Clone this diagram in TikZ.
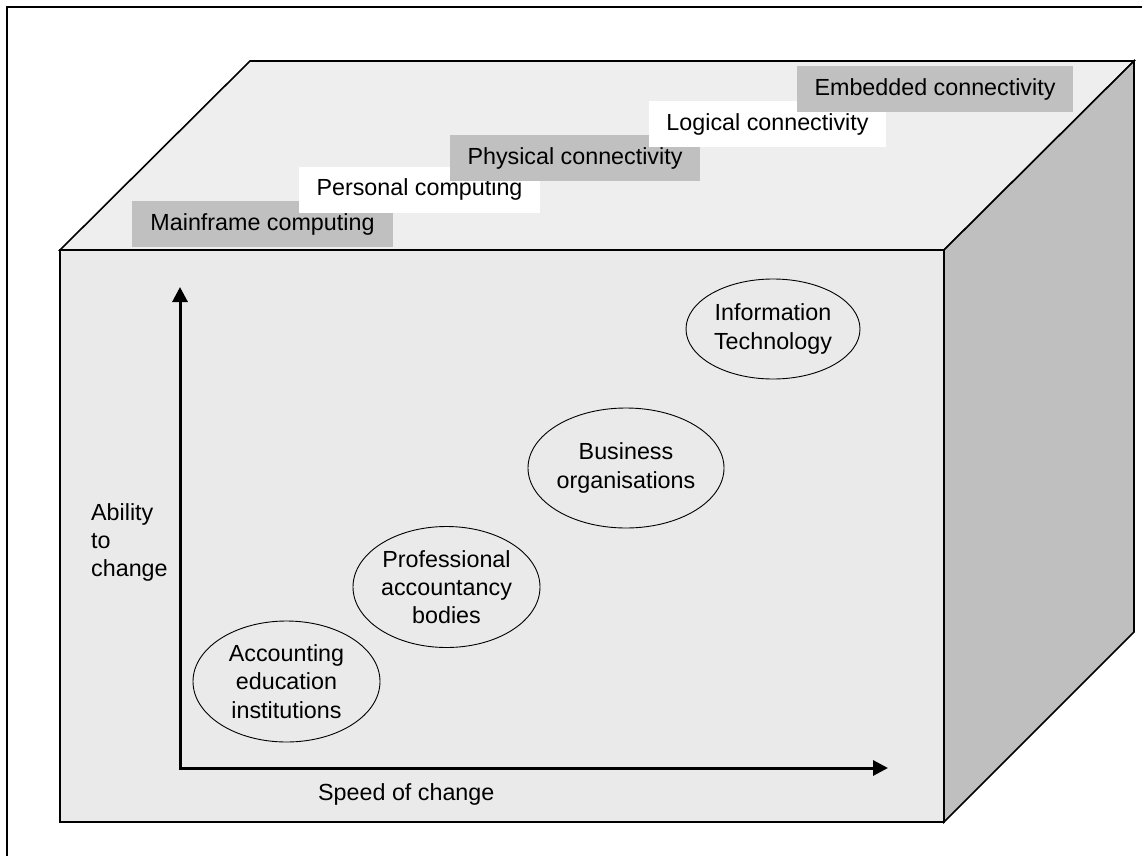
\documentclass[tikz,border=0pt]{standalone}
\usepackage{fontspec}
\setmainfont{Liberation Sans}
\usepackage{tikz}
\usetikzlibrary{arrows.meta}
\usetikzlibrary{shapes.geometric}
\usepackage{xcolor}
\definecolor{FaceFront}{RGB}{234,234,234}
\definecolor{FaceTop}{RGB}{238,238,238}
\definecolor{FaceSide}{RGB}{191,191,191}
\definecolor{EraGrey}{RGB}{192,192,192}
\tikzstyle{CubeFace}=[draw=black,line width=1.6pt,line join=miter]
\tikzstyle{EraBox}=[inner sep=0pt,minimum height=46pt,
font=\fontsize{23.3}{28}\selectfont]
\tikzstyle{EraDark}=[EraBox,fill=EraGrey]
\tikzstyle{EraLight}=[EraBox,fill=white]
\tikzstyle{Bubble}=[ellipse,draw=black,line width=0.9pt,inner sep=0pt,align=center,
font=\fontsize{23.3}{28.3}\selectfont]
\tikzstyle{AxisLine}=[line width=3pt,
{Triangle[length=15pt,width=15pt]}-{Triangle[length=15pt,width=15pt]}]
\tikzstyle{AxisText}=[inner sep=0pt,align=left,font=\fontsize{23.3}{28}\selectfont]

\begin{document}
\begin{tikzpicture}[x=1pt,y=-1pt]
        \useasboundingbox(0,0)rectangle(1142,856);
        \draw[line width=2.5pt](7,856)--(7,7)--(1142,7);
        % cube
        \coordinate(FTL)at(60,250);
        \coordinate(FTR)at(944,250);
        \coordinate(FBL)at(60,822);
        \coordinate(FBR)at(944,822);
        \coordinate(BTL)at(250,61);
        \coordinate(BTR)at(1134,61);
        \coordinate(BBR)at(1134,632);
        \filldraw[CubeFace,fill=FaceTop](FTL)--(BTL)--(BTR)--(FTR)--cycle;
        \filldraw[CubeFace,fill=FaceSide](FTR)--(BTR)--(BBR)--(FBR)--cycle;
        \filldraw[CubeFace,fill=FaceFront](FTL)--(FTR)--(FBR)--(FBL)--cycle;
        % eras on the top face
        \node[EraDark,minimum width=261pt](Mainframe)at(262.5,224){Mainframe computing};
        \node[EraLight,minimum width=241pt](Personal)at(419.5,189.5){Personal computing};
        \node[EraDark,minimum width=250pt](Physical)at(575,158){Physical connectivity};
        \node[EraLight,minimum width=237pt](Logical)at(767.5,124){Logical connectivity};
        \node[EraDark,minimum width=276pt](Embedded)at(935,89){Embedded connectivity};
        % axes
        \coordinate(Origin)at(180,768);
        \coordinate(YTip)at(180,287);
        \coordinate(XTip)at(888,768);
        \draw[AxisLine,line join=miter](YTip)--(Origin)--(XTip);
        \node[AxisText,anchor=north west](AbilityLbl)at(91,503){Ability\\to\\change};
        \node[AxisText,anchor=base west](SpeedLbl)at(318,800){Speed of change};
        % bodies
        \node[Bubble,minimum width=187pt,minimum height=121pt](Accounting)at(286.5,681.5)
            {Accounting\\education\\institutions};
        \node[Bubble,minimum width=187pt,minimum height=121pt](Professional)at(446.5,587)
            {Professional\\accountancy\\bodies};
        \node[Bubble,minimum width=174pt,minimum height=120pt](Business)at(626,468)
            {Business\\organisations};
        \node[Bubble,minimum width=174pt,minimum height=100pt](InfoTech)at(773,329)
            {Information\\Technology};
    \end{tikzpicture}
\end{document}
